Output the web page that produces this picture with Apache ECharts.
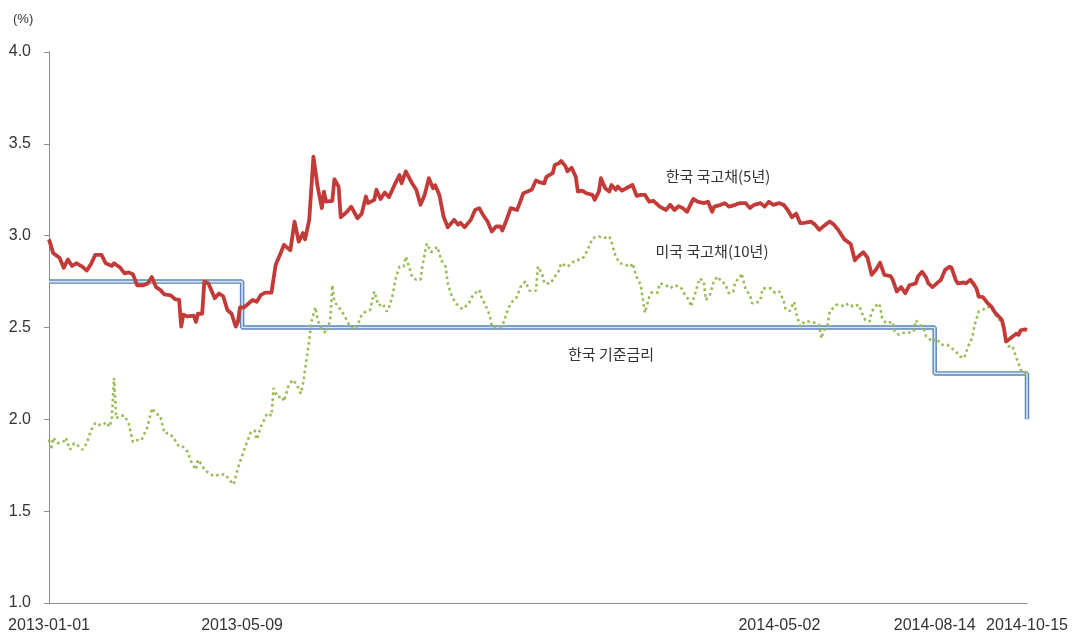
<!DOCTYPE html>
<html>
<head>
<meta charset="utf-8">
<script src="https://cdn.jsdelivr.net/npm/echarts@6/dist/echarts.min.js"></script>
<style>
html,body{margin:0;padding:0;background:#fff;}
#chart{width:1079px;height:634px;}
</style>
</head>
<body>
<div id="chart"></div>
<script>
// Category axis: business days 2013-01-01 .. 2014-10-15
const startDate = '2013-01-01';
const endDate = '2014-10-15';
const xTickLabels = ['2013-01-01', '2013-05-09', '2014-05-02', '2014-08-14', '2014-10-15'];
const yTicks = [1.0, 1.5, 2.0, 2.5, 3.0, 3.5, 4.0];

// [business-day index, yield %]
const kr5 = [[0,2.98],[2,2.905],[5,2.88],[7,2.825],[9,2.87],[11,2.835],[13,2.85],[16,2.83],[18,2.81],[20,2.845],[22,2.895],[25,2.895],[27,2.85],[30,2.835],[31,2.85],[34,2.825],[36,2.795],[38,2.80],[40,2.79],[42,2.73],[45,2.73],[47,2.74],[49,2.775],[51,2.72],[53,2.705],[55,2.68],[58,2.675],[60,2.655],[62,2.65],[63,2.505],[64,2.57],[66,2.56],[69,2.565],[70,2.53],[71,2.575],[73,2.575],[74,2.75],[76,2.74],[78,2.685],[79,2.66],[81,2.685],[83,2.67],[85,2.595],[87,2.575],[89,2.505],[90,2.53],[91,2.61],[93,2.61],[97,2.65],[99,2.64],[101,2.678],[103,2.69],[106,2.69],[108,2.84],[110,2.895],[112,2.95],[115,2.92],[117,3.077],[119,2.968],[121,3.014],[122,2.98],[124,3.086],[126,3.43],[128,3.267],[130,3.15],[131,3.24],[132,3.185],[135,3.19],[136,3.307],[138,3.267],[139,3.10],[142,3.13],[144,3.158],[147,3.095],[149,3.12],[151,3.213],[152,3.177],[155,3.195],[156,3.25],[158,3.20],[160,3.235],[162,3.21],[165,3.285],[167,3.33],[168,3.285],[170,3.35],[173,3.285],[175,3.25],[177,3.168],[179,3.222],[181,3.313],[183,3.258],[184,3.275],[186,3.222],[188,3.104],[190,3.046],[193,3.086],[195,3.06],[196,3.07],[198,3.046],[201,3.086],[203,3.14],[205,3.15],[207,3.11],[209,3.077],[211,3.023],[213,3.05],[215,3.05],[216,3.028],[218,3.086],[220,3.15],[223,3.14],[224,3.168],[226,3.231],[228,3.24],[230,3.25],[232,3.30],[234,3.29],[236,3.285],[237,3.32],[240,3.34],[241,3.385],[243,3.394],[244,3.407],[246,3.38],[247,3.35],[249,3.37],[251,3.32],[252,3.24],[254,3.245],[256,3.231],[259,3.222],[260,3.195],[262,3.24],[263,3.313],[265,3.258],[267,3.24],[268,3.276],[270,3.25],[271,3.267],[273,3.245],[275,3.258],[278,3.276],[280,3.217],[282,3.222],[284,3.222],[286,3.185],[288,3.19],[291,3.158],[294,3.14],[296,3.168],[298,3.14],[300,3.16],[302,3.15],[304,3.13],[307,3.20],[309,3.185],[312,3.177],[314,3.185],[316,3.13],[317,3.158],[320,3.168],[322,3.177],[324,3.158],[327,3.168],[329,3.177],[332,3.177],[334,3.15],[336,3.168],[339,3.177],[341,3.158],[343,3.185],[345,3.168],[348,3.177],[350,3.168],[352,3.14],[354,3.10],[356,3.12],[358,3.068],[360,3.07],[363,3.077],[365,3.06],[367,3.032],[370,3.06],[372,3.077],[374,3.06],[376,3.032],[379,2.98],[382,2.955],[384,2.865],[385,2.88],[388,2.91],[390,2.88],[392,2.787],[394,2.814],[396,2.853],[398,2.787],[401,2.78],[402,2.76],[404,2.696],[406,2.72],[408,2.687],[410,2.73],[413,2.74],[414,2.776],[416,2.804],[418,2.77],[419,2.74],[421,2.72],[423,2.74],[425,2.76],[427,2.814],[429,2.83],[430,2.826],[432,2.76],[433,2.74],[436,2.745],[437,2.74],[439,2.76],[441,2.73],[442,2.71],[443,2.668],[445,2.665],[447,2.636],[449,2.614],[451,2.578],[454,2.542],[455,2.497],[456,2.424],[458,2.44],[459,2.45],[461,2.467],[462,2.46],[463,2.485],[465,2.49],[466,2.485]];

const us10 = [[0,1.89],[1,1.835],[2,1.90],[4,1.87],[7,1.88],[8,1.90],[10,1.835],[12,1.87],[14,1.855],[16,1.835],[18,1.87],[20,1.94],[22,1.98],[23,1.97],[26,1.97],[27,1.985],[29,1.96],[30,2.016],[31,2.225],[32,2.006],[34,2.02],[36,2.02],[38,1.976],[40,1.876],[42,1.886],[44,1.886],[47,1.96],[49,2.06],[51,2.03],[53,2.02],[55,1.925],[57,1.925],[59,1.905],[62,1.85],[64,1.85],[66,1.825],[68,1.762],[70,1.726],[71,1.78],[73,1.75],[74,1.726],[77,1.70],[79,1.69],[81,1.70],[84,1.70],[86,1.67],[88,1.645],[90,1.735],[92,1.80],[93,1.835],[96,1.925],[98,1.94],[99,1.89],[101,1.96],[104,2.033],[106,2.02],[107,2.17],[109,2.12],[111,2.125],[112,2.098],[114,2.178],[116,2.215],[118,2.19],[120,2.14],[121,2.19],[122,2.27],[124,2.43],[125,2.53],[127,2.61],[128,2.54],[130,2.49],[132,2.47],[134,2.54],[135,2.73],[136,2.64],[139,2.596],[141,2.56],[143,2.515],[145,2.49],[147,2.51],[149,2.57],[151,2.587],[153,2.596],[155,2.696],[157,2.62],[159,2.63],[161,2.587],[162,2.61],[164,2.687],[165,2.76],[167,2.832],[169,2.832],[170,2.886],[173,2.777],[175,2.76],[177,2.76],[178,2.84],[180,2.957],[182,2.91],[185,2.94],[187,2.865],[189,2.83],[190,2.74],[192,2.667],[194,2.63],[197,2.60],[200,2.63],[202,2.677],[205,2.705],[206,2.667],[208,2.62],[210,2.568],[211,2.505],[213,2.50],[216,2.505],[218,2.578],[220,2.632],[223,2.667],[225,2.73],[227,2.75],[229,2.70],[232,2.70],[233,2.832],[235,2.79],[236,2.74],[239,2.74],[241,2.777],[243,2.81],[244,2.85],[247,2.83],[249,2.85],[251,2.868],[253,2.868],[255,2.886],[257,2.932],[259,2.986],[262,2.996],[264,2.986],[267,2.996],[268,2.968],[270,2.886],[272,2.85],[274,2.845],[277,2.83],[278,2.85],[280,2.776],[282,2.73],[283,2.65],[284,2.58],[286,2.667],[287,2.69],[290,2.69],[291,2.74],[294,2.73],[296,2.713],[298,2.73],[301,2.72],[303,2.677],[305,2.65],[306,2.614],[308,2.69],[310,2.768],[312,2.75],[313,2.65],[315,2.68],[317,2.76],[319,2.777],[320,2.75],[322,2.74],[324,2.687],[326,2.695],[327,2.75],[329,2.768],[330,2.795],[332,2.705],[334,2.677],[335,2.632],[337,2.632],[339,2.65],[340,2.713],[342,2.713],[344,2.713],[346,2.687],[348,2.695],[350,2.65],[351,2.60],[353,2.59],[355,2.64],[356,2.578],[358,2.505],[360,2.533],[363,2.533],[365,2.525],[367,2.515],[368,2.44],[369,2.478],[371,2.515],[372,2.587],[375,2.623],[377,2.623],[379,2.614],[381,2.632],[383,2.614],[386,2.623],[387,2.587],[389,2.54],[391,2.533],[392,2.587],[395,2.632],[396,2.614],[397,2.55],[399,2.523],[402,2.532],[403,2.478],[405,2.46],[407,2.47],[409,2.47],[412,2.478],[413,2.54],[415,2.515],[417,2.487],[418,2.45],[421,2.424],[423,2.44],[425,2.406],[428,2.406],[430,2.388],[432,2.37],[434,2.342],[436,2.333],[438,2.397],[440,2.45],[441,2.514],[443,2.587],[445,2.596],[447,2.614],[449,2.605],[451,2.57],[453,2.54],[455,2.497],[457,2.397],[459,2.40],[461,2.333],[462,2.306],[463,2.27],[465,2.252],[466,2.22]];

// Korean base rate changes: [business-day index, rate %]
const baseRate = [[0,2.75],[92,2.50],[422,2.25],[466,2.00]];

const seriesNames = ['한국 국고채(5년)', '미국 국고채(10년)', '한국 기준금리'];

// build weekday category list
function buildDays(s, e) {
  const out = [];
  const d = new Date(s + 'T00:00:00Z');
  const end = new Date(e + 'T00:00:00Z');
  while (d <= end) {
    const wd = d.getUTCDay();
    if (wd !== 0 && wd !== 6) out.push(d.toISOString().slice(0, 10));
    d.setUTCDate(d.getUTCDate() + 1);
  }
  return out;
}
const days = buildDays(startDate, endDate);

const chart = echarts.init(document.getElementById('chart'), null, {renderer: 'canvas'});
const textColor = '#333333';
const axisColor = '#8c8c8c';

const option = {
  animation: false,
  backgroundColor: '#ffffff',
  grid: {left: 49, right: 52, top: 52, bottom: 31, containLabel: false},
  xAxis: {
    type: 'category',
    data: days,
    boundaryGap: false,
    axisLine: {show: true, lineStyle: {color: axisColor, width: 1}},
    axisTick: {show: false},
    splitLine: {show: false},
    axisLabel: {
      interval: (i, v) => xTickLabels.includes(v),
      color: textColor,
      fontSize: 16,
      fontFamily: 'Liberation Sans, Arial, sans-serif',
      margin: 15
    }
  },
  yAxis: {
    type: 'value',
    min: yTicks[0],
    max: yTicks[yTicks.length - 1],
    interval: 0.5,
    axisLine: {show: true, lineStyle: {color: axisColor, width: 1}},
    axisTick: {show: true, length: 5, lineStyle: {color: axisColor}},
    splitLine: {show: false},
    axisLabel: {
      formatter: v => v.toFixed(1),
      color: textColor,
      fontSize: 16,
      fontFamily: 'Liberation Sans, Arial, sans-serif',
      margin: 18
    }
  },
  graphic: [
    {type: 'text', left: 13, top: 13, style: {text: '(%)', fill: textColor, font: '13px "Liberation Sans", Arial, sans-serif'}},
    {type: 'text', x: 718, y: 176, style: {text: seriesNames[0], fill: textColor, font: '15px "Noto Sans CJK KR", sans-serif', align: 'center', verticalAlign: 'middle'}, z: 100},
    {type: 'text', x: 712, y: 251, style: {text: seriesNames[1], fill: textColor, font: '15px "Noto Sans CJK KR", sans-serif', align: 'center', verticalAlign: 'middle'}, z: 100},
    {type: 'text', x: 611, y: 354, style: {text: seriesNames[2], fill: textColor, font: '15px "Noto Sans CJK KR", sans-serif', align: 'center', verticalAlign: 'middle'}, z: 100}
  ],
  series: [
    {
      name: seriesNames[2] + '-outer', type: 'line', data: baseRate, step: 'end',
      showSymbol: false, symbol: 'none', z: 1,
      lineStyle: {color: '#5a86bb', width: 4.5}
    },
    {
      name: seriesNames[2], type: 'line', data: baseRate, step: 'end',
      showSymbol: false, symbol: 'none', z: 2,
      lineStyle: {color: '#dbe6f3', width: 1.6}
    },
    {
      name: seriesNames[1], type: 'line', data: us10,
      showSymbol: false, symbol: 'none', z: 3,
      lineStyle: {color: '#9bbb59', width: 2.6, type: [2.6, 3.2], cap: 'butt'}
    },
    {
      name: seriesNames[0], type: 'line', data: kr5,
      showSymbol: false, symbol: 'none', z: 4,
      lineStyle: {color: '#c23b38', width: 3.8, join: 'round'}
    }
  ]
};
chart.setOption(option);
</script>
</body>
</html>
